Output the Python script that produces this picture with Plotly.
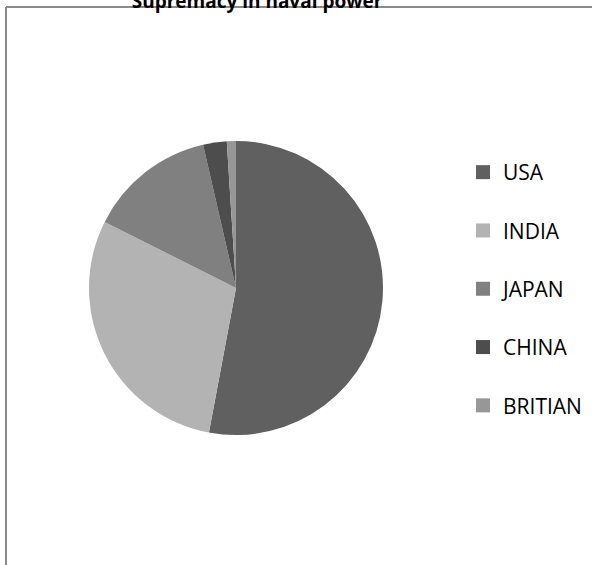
import plotly.graph_objects as go

countries = ["USA", "INDIA", "JAPAN", "CHINA", "BRITIAN"]
shares = [53.0, 29.5, 14.0, 2.6, 1.0]
colors = ["#606060", "#b3b3b3", "#808080", "#4d4d4d", "#979797"]
title_text = "Supremacy in naval power"

W, H = 592, 565
fig = go.Figure()

fig.add_trace(go.Pie(
    labels=countries, values=shares, sort=False, direction="clockwise",
    rotation=0, textinfo="none", hoverinfo="label+percent",
    marker=dict(colors=colors, line=dict(width=0)),
    domain=dict(x=[(236 - 147) / W, (236 + 147) / W], y=[1 - 435 / H, 1 - 141 / H]),
    showlegend=False,
))

for i, (c, col) in enumerate(zip(countries, colors)):
    fig.add_trace(go.Scatter(
        x=[None], y=[None], mode="markers", name=c, legendgroup=f"g{i}",
        marker=dict(symbol="square", size=14, color=col),
    ))

fig.update_layout(
    width=W, height=H,
    margin=dict(l=0, r=0, t=0, b=0),
    paper_bgcolor="white", plot_bgcolor="white",
    xaxis=dict(visible=False), yaxis=dict(visible=False),
    font=dict(family="Open Sans, Liberation Sans, sans-serif", color="#000000"),
    title=dict(text="<b>" + title_text + "</b>", x=257 / W, xanchor="center",
               y=1 - 8 / H, yanchor="bottom", yref="container",
               font=dict(size=19, color="#000000")),
    legend=dict(x=463 / W, xanchor="left", y=1 - 152 / H, yanchor="top",
                font=dict(size=21, color="#000000"), tracegroupgap=28,
                bgcolor="rgba(0,0,0,0)"),
    shapes=[
        dict(type="line", xref="paper", yref="paper", x0=6 / W, x1=6 / W,
             y0=-0.05, y1=1 - 7 / H, line=dict(color="#8a8a8a", width=2)),
        dict(type="line", xref="paper", yref="paper", x0=6 / W, x1=1.05,
             y0=1 - 7 / H, y1=1 - 7 / H, line=dict(color="#8a8a8a", width=2)),
    ],
)

fig.write_html("out.html")
